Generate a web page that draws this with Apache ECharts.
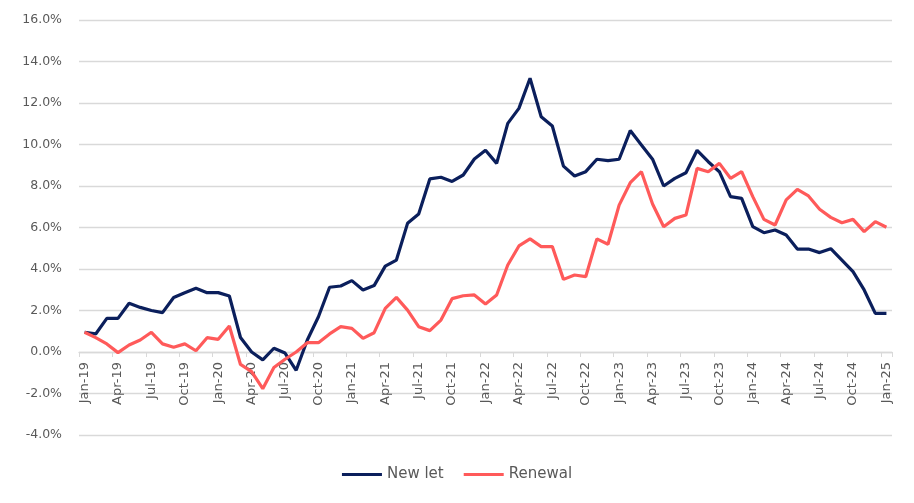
<!DOCTYPE html>
<html>
<head>
<meta charset="utf-8">
<script src="https://cdn.jsdelivr.net/npm/echarts@6/dist/echarts.min.js"></script>
<style>
  html, body { margin: 0; padding: 0; background: #ffffff; }
  #chart { width: 914px; height: 503px; }
</style>
</head>
<body>
<div id="chart"></div>
<script>
var chart = echarts.init(document.getElementById('chart'));

// months Jan-19 .. Jan-25
var monthNames = ['Jan', 'Feb', 'Mar', 'Apr', 'May', 'Jun', 'Jul', 'Aug', 'Sep', 'Oct', 'Nov', 'Dec'];
var months = [];
for (var y = 19; y <= 25; y++) {
    for (var m = 0; m < 12; m++) {
        if (y === 25 && m > 0) break;
        months.push(monthNames[m] + '-' + y);
    }
}

// annual growth, %
var newLet = [
    0.95, 0.87, 1.62, 1.62, 2.35, 2.15, 2.0, 1.9, 2.63, 2.86, 3.07, 2.86,
    2.86, 2.7, 0.7, 0.0, -0.38, 0.18, -0.05, -0.88, 0.58, 1.7, 3.12, 3.18,
    3.44, 2.99, 3.2, 4.14, 4.43, 6.2, 6.65, 8.34, 8.42, 8.22, 8.53, 9.3,
    9.72, 9.09, 11.02, 11.74, 13.19, 11.34, 10.89, 8.96, 8.48, 8.69, 9.29, 9.22,
    9.29, 10.67, 9.98, 9.29, 8.0, 8.37, 8.64, 9.72, 9.17, 8.69, 7.49, 7.4,
    6.04, 5.75, 5.88, 5.64, 4.96, 4.96, 4.79, 4.98, 4.43, 3.87, 2.99, 1.86,
    1.86
];
var renewal = [
    0.95, 0.69, 0.39, -0.03, 0.34, 0.58, 0.95, 0.39, 0.23, 0.39, 0.06, 0.69,
    0.61, 1.25, -0.6, -0.95, -1.77, -0.75, -0.35, 0.0, 0.45, 0.45, 0.87, 1.22,
    1.14, 0.66, 0.93, 2.1, 2.63, 2.02, 1.22, 1.03, 1.54, 2.57, 2.71, 2.75,
    2.31, 2.75, 4.19, 5.11, 5.45, 5.08, 5.08, 3.5, 3.71, 3.63, 5.45, 5.19,
    7.08, 8.16, 8.69, 7.13, 6.04, 6.44, 6.6, 8.85, 8.69, 9.09, 8.37, 8.69,
    7.49, 6.39, 6.12, 7.33, 7.84, 7.52, 6.88, 6.49, 6.23, 6.39, 5.8, 6.28,
    6.01
];

var labelFont = '"DejaVu Sans", sans-serif';

option = {
    animation: false,
    backgroundColor: '#ffffff',
    color: ['#0b1f5c', '#ff5a5a'],
    grid: {
        left: 79,
        right: 22,
        top: 20,
        bottom: 68
    },
    legend: {
        data: ['New let', 'Renewal'],
        top: 462,
        left: 'center',
        icon: 'rect',
        itemWidth: 40,
        itemHeight: 3,
        itemGap: 20,
        textStyle: {
            color: '#595959',
            fontSize: 15,
            fontFamily: labelFont
        }
    },
    xAxis: {
        type: 'category',
        data: months,
        boundaryGap: true,
        position: 'bottom',
        // axis sits on the 0% line: 4 steps of 2% above the grid bottom
        offset: -83,
        axisLine: {
            onZero: false,
            lineStyle: {
                color: '#d9d9d9',
                width: 1.3
            }
        },
        axisTick: {
            show: true,
            interval: 2,
            length: 5,
            lineStyle: {
                color: '#d9d9d9'
            }
        },
        axisLabel: {
            interval: 2,
            rotate: 90,
            margin: 10,
            color: '#595959',
            fontSize: 13,
            fontFamily: labelFont
        },
        splitLine: {
            show: false
        }
    },
    yAxis: {
        type: 'value',
        min: -4,
        max: 16,
        interval: 2,
        axisLine: {
            show: false
        },
        axisTick: {
            show: false
        },
        axisLabel: {
            margin: 17,
            color: '#595959',
            fontSize: 12.5,
            fontFamily: labelFont,
            formatter: function (v) {
                return v.toFixed(1) + '%';
            }
        },
        splitLine: {
            lineStyle: {
                color: '#d9d9d9',
                width: 1.3
            }
        }
    },
    series: [
        {
            name: 'New let',
            type: 'line',
            data: newLet,
            symbol: 'none',
            lineStyle: {
                width: 3.2,
                color: '#0b1f5c'
            }
        },
        {
            name: 'Renewal',
            type: 'line',
            data: renewal,
            symbol: 'none',
            lineStyle: {
                width: 3.2,
                color: '#ff5a5a'
            }
        }
    ]
};

chart.setOption(option);
</script>
</body>
</html>
